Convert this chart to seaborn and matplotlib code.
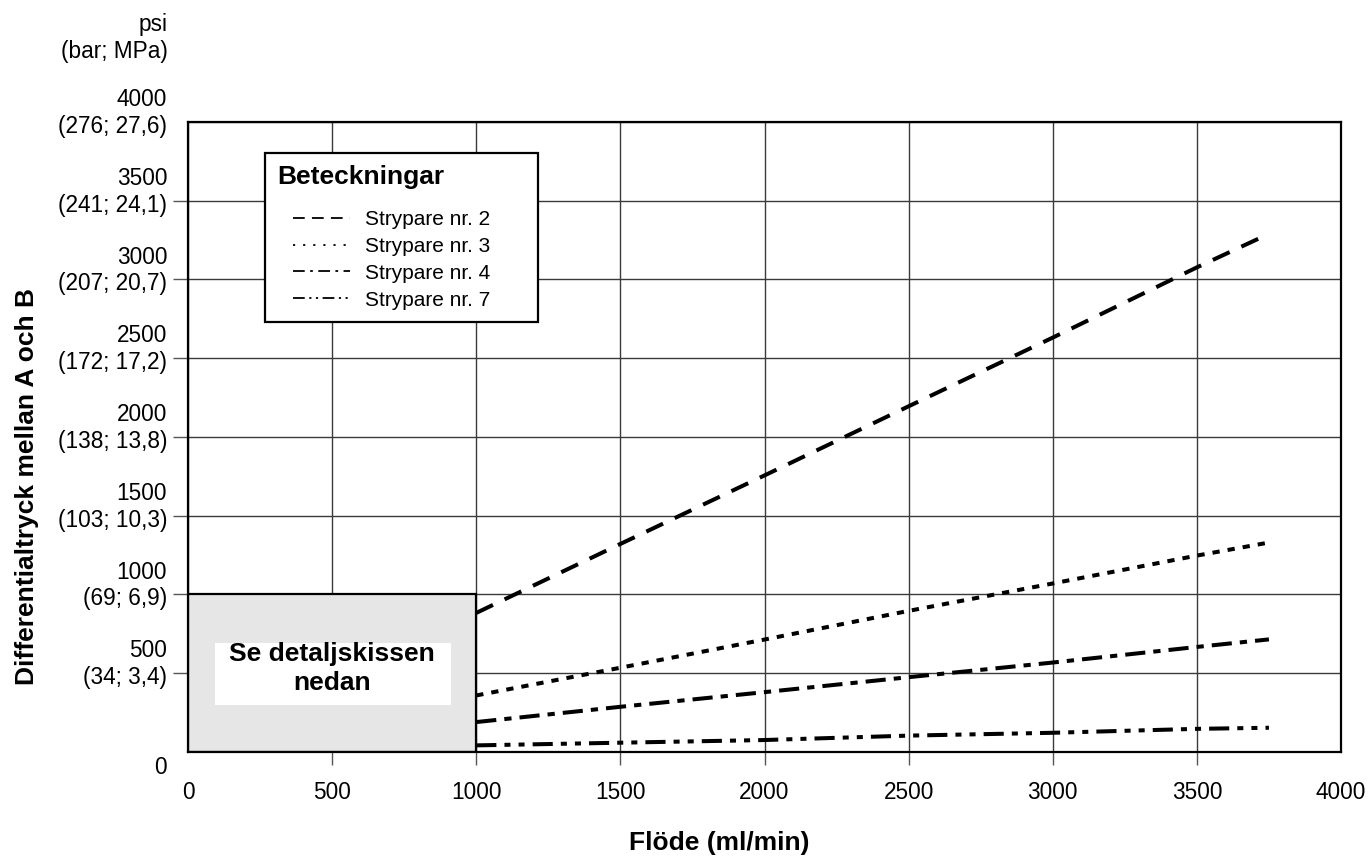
import numpy as np
import pandas as pd
import seaborn as sns
import matplotlib
matplotlib.use("Agg")
import matplotlib.pyplot as plt
from matplotlib.patches import Rectangle
from matplotlib.lines import Line2D
from matplotlib.legend_handler import HandlerLine2D
from matplotlib.transforms import ScaledTranslation

# ---------------- data ----------------
flow = [1000, 1500, 2000, 2500, 3000, 3500, 3750]
strypare_2 = [883, 1321, 1756, 2195, 2631, 3077, 3290]
strypare_3 = [359, 535, 714, 896, 1070, 1247, 1330]
strypare_4 = [190, 287, 380, 475, 568, 667, 715]
strypare_7 = [42, 59, 76, 104, 122, 147, 154]
series_names = ["Strypare nr. 2", "Strypare nr. 3", "Strypare nr. 4", "Strypare nr. 7"]

x_ticks = [0, 500, 1000, 1500, 2000, 2500, 3000, 3500, 4000]
y_ticks_psi = [0, 500, 1000, 1500, 2000, 2500, 3000, 3500, 4000]
y_ticks_metric = ["", "(34; 3,4)", "(69; 6,9)", "(103; 10,3)", "(138; 13,8)",
                  "(172; 17,2)", "(207; 20,7)", "(241; 24,1)", "(276; 27,6)"]

detail_flow_max = 1000
detail_psi_max = 1000

x_label = "Flöde (ml/min)"
y_label = "Differentialtryck mellan A och B"
unit_label = "psi\n(bar; MPa)"
legend_title = "Beteckningar"
detail_text = "Se detaljskissen\nnedan"

# ---------------- styles ----------------
line_dashes = {
    "Strypare nr. 2": (4.6, 3.2),
    "Strypare nr. 3": (1.8, 2.0),
    "Strypare nr. 4": (5.0, 2.0, 1.8, 2.0),
    "Strypare nr. 7": (5.0, 2.0, 1.5, 2.0, 1.5, 2.0),
}
legend_dashes = {
    "Strypare nr. 2": (6.5, 4.0),
    "Strypare nr. 3": (1.2, 4.4),
    "Strypare nr. 4": (6.5, 3.0, 1.5, 3.0),
    "Strypare nr. 7": (6.5, 2.5, 1.2, 2.5, 1.2, 2.5),
}

sns.set_style("white")
plt.rcParams["font.family"] = ["Liberation Sans", "DejaVu Sans"]
plt.rcParams["text.color"] = "black"
plt.rcParams["axes.labelcolor"] = "black"
plt.rcParams["xtick.labelcolor"] = "black"
plt.rcParams["ytick.labelcolor"] = "black"

df = pd.DataFrame({
    "flow": flow * 4,
    "psi": strypare_2 + strypare_3 + strypare_4 + strypare_7,
    "serie": sum([[n] * len(flow) for n in series_names], []),
})

fig = plt.figure(figsize=(13.71, 8.61), dpi=100)
ax = fig.add_axes([0.13713, 0.12660, 0.84099, 0.73171])

sns.lineplot(data=df, x="flow", y="psi", style="serie", style_order=series_names,
             dashes=line_dashes, color="black", linewidth=2.9, legend=False,
             estimator=None, sort=False, ax=ax, zorder=3)

ax.set_xlim(0, 4000)
ax.set_ylim(0, 4000)
ax.set_xticks(x_ticks)
ax.set_xticklabels([str(v) for v in x_ticks])
ax.set_yticks(y_ticks_psi)
ax.set_yticklabels([f"{p}\n{m}" if m else f"{p}" for p, m in zip(y_ticks_psi, y_ticks_metric)])

ax.grid(True, color="#3a3a3a", linewidth=1.0)
ax.set_axisbelow(True)
for sp in ax.spines.values():
    sp.set_visible(True)
    sp.set_color("black")
    sp.set_linewidth(1.6)
    sp.set_zorder(6)

ax.tick_params(axis="x", direction="out", length=9.4, width=1.0, color="#555555",
               labelcolor="black", pad=11.5, labelsize=16.3, bottom=True)
ax.tick_params(axis="y", direction="out", length=11, width=1.0, color="#555555",
               labelcolor="black", pad=4, labelsize=16.3, left=True)

# hide tick marks at corners
for ticks in (ax.xaxis.get_major_ticks(), ax.yaxis.get_major_ticks()):
    ticks[0].tick1line.set_visible(False)
    ticks[-1].tick1line.set_visible(False)

ax.set_xlabel(x_label, fontsize=19, fontweight="bold", color="black")
ax.xaxis.set_label_coords(0.4605, -0.1254)
ax.set_ylabel(y_label, fontsize=19, fontweight="bold", color="black")
ax.yaxis.set_label_coords(-0.129, 0.4222)

ax.text(-0.0178, 1.1333, unit_label, transform=ax.transAxes, ha="right",
        va="center", fontsize=16.3, color="black")

# detail box
ax.add_patch(Rectangle((0, 0), detail_flow_max, detail_psi_max, facecolor="#e6e6e6",
                       edgecolor="black", linewidth=1.6, zorder=4))
ax.add_patch(Rectangle((0.092 * detail_flow_max, 0.30 * detail_psi_max),
                       0.82 * detail_flow_max, 0.395 * detail_psi_max,
                       facecolor="white", edgecolor="none", zorder=5))
ax.text(0.5 * detail_flow_max, 0.53 * detail_psi_max, detail_text, ha="center",
        va="center", fontsize=19, fontweight="bold", zorder=6, linespacing=1.25,
        color="black")

# legend
handles = [Line2D([], [], color="black", linewidth=1.3, dashes=legend_dashes[n])
           for n in series_names]
leg = ax.legend(handles, series_names, title=legend_title, loc="upper left",
                bbox_to_anchor=(0.0668, 0.6508, 0.2368, 0.3), mode="expand",
                borderaxespad=0, fontsize=15, alignment="left",
                title_fontproperties={"weight": "bold", "size": 19},
                handlelength=3.5, handletextpad=0.72, labelspacing=0.38,
                borderpad=0.58, frameon=True, fancybox=False, framealpha=1,
                edgecolor="black", handler_map={Line2D: HandlerLine2D(xpad=0.77)})
leg.get_frame().set_linewidth(1.6)
leg.set_zorder(7)
leg._legend_box.sep = 15
for t in leg.get_texts():
    t.set_color("black")
leg.get_title().set_color("black")

# shift y tick labels so the metric line centres on the tick
for val, lab in zip(y_ticks_psi, ax.get_yticklabels()):
    lab.set_va("center")
    dy = -15.5 / 100 if val == 0 else 9 / 100
    lab.set_transform(lab.get_transform() + ScaledTranslation(0, dy, fig.dpi_scale_trans))

fig.savefig("out.png", dpi=100)
